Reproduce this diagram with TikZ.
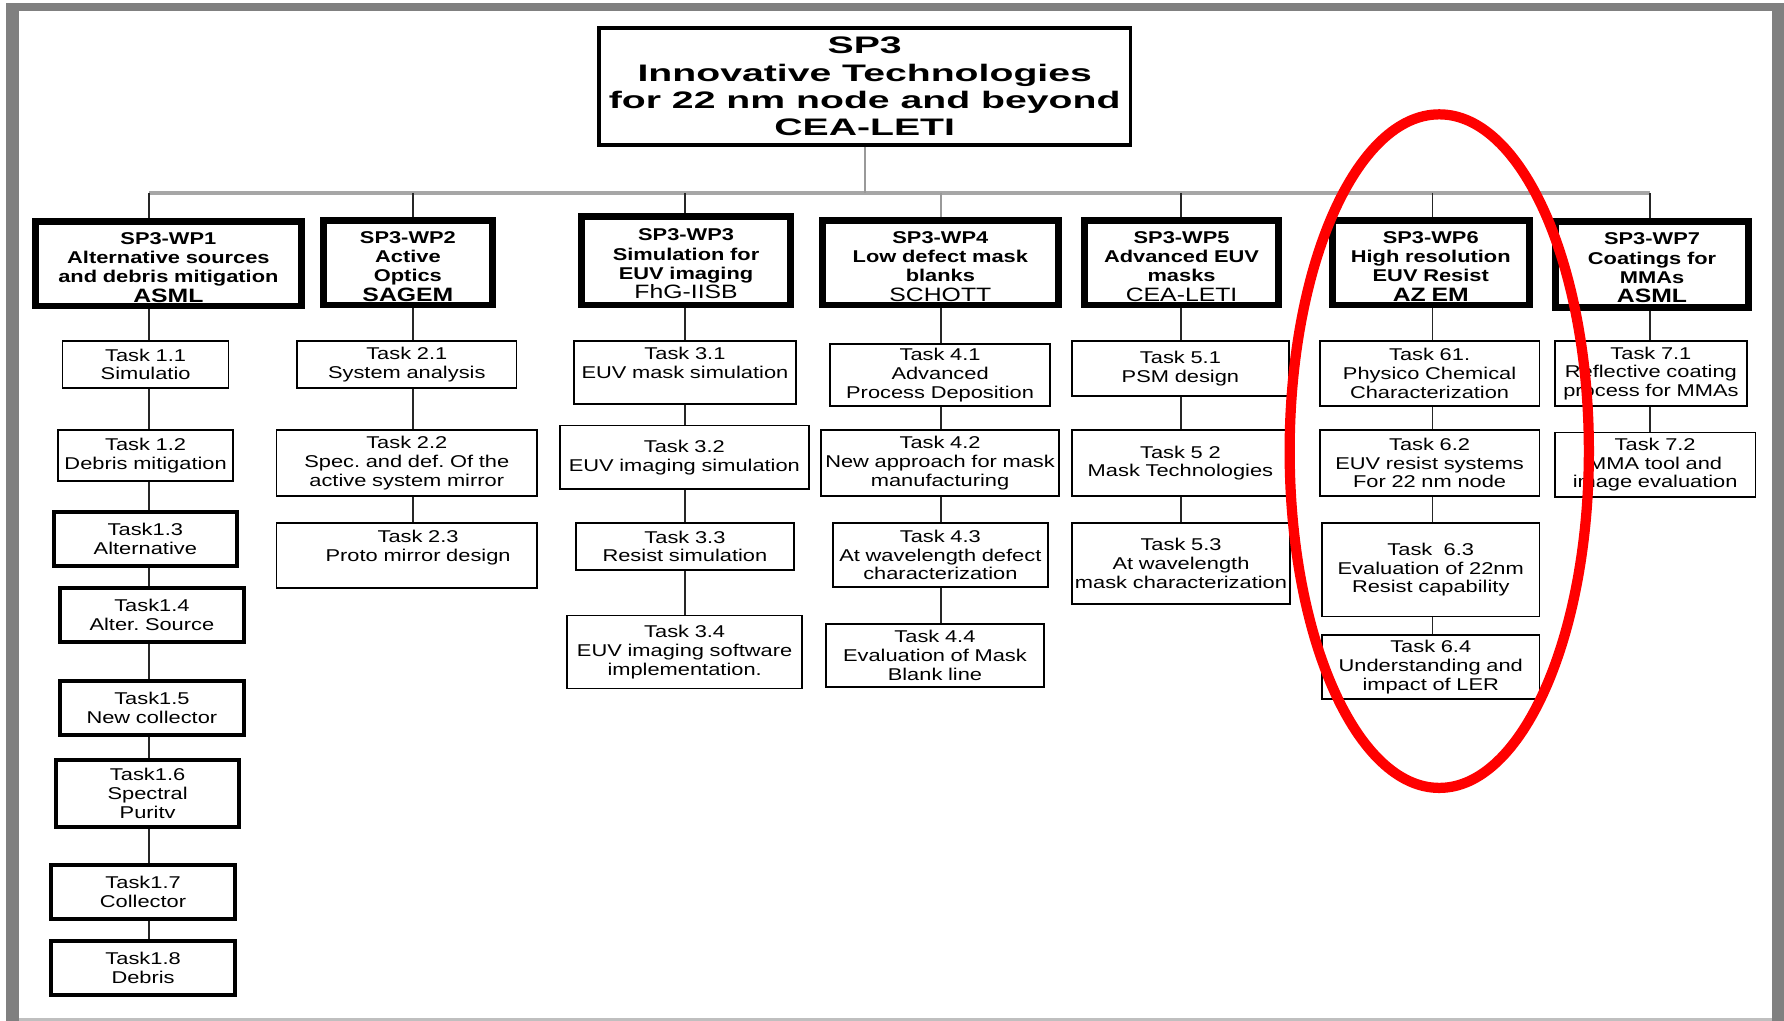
\documentclass[tikz,border=0pt]{standalone}
\usepackage{fontspec}
\setmainfont{Liberation Sans}[FakeStretch=1.28]
\newfontfamily\titlefont{Liberation Sans}[FakeStretch=1.64]
\definecolor{framegray}{HTML}{808080}
\frenchspacing

\begin{document}
\begin{tikzpicture}[x=1pt, y=-1pt,
	task/.style={draw, line width=1.4pt, inner sep=0pt, align=center, font=\fontsize{15}{16.5}\selectfont},
	heavytask/.style={task, line width=3.5pt},
	wp/.style={draw, line width=6pt, inner sep=0pt, align=center, font=\fontsize{15}{17}\selectfont\bfseries, execute at begin node={\rule{0pt}{16.5pt}}},
	titlebox/.style={draw, line width=3pt, inner sep=0pt, align=center, font=\titlefont\fontsize{21}{23.9}\selectfont\bfseries},
	dims/.style 2 args={minimum width=#1pt, text width=#1pt, minimum height=#2pt},
	link/.style={line width=1.3pt, black!85},
	bus/.style={line width=3pt, black!35}]
	
	\useasboundingbox (0,0) rectangle (1568,897);
	\fill [white] (0,0) rectangle (1568,897);
	\fill [framegray] (5.3,2.6) rectangle (1568,897);
	\fill [white] (16.7,9.7) rectangle (1557.4,894.8);
	\fill [black!25] (16.7,894.8) rectangle (1557.4,897);
	
	\node [titlebox, minimum width=467, minimum height=103] (sp3) at (760,76) {SP3\\Innovative Technologies\\for 22 nm node and beyond\\CEA-LETI};
	
	\node [wp, dims={234}{74}] (wp1) at (148,232) {SP3-WP1\\Alternative sources\\and debris mitigation\\\fontsize{17}{17}\selectfont ASML};
	\node [wp, dims={149}{74}] (wp2) at (358.5,231) {SP3-WP2\\Active\\Optics\\\fontsize{17}{17}\selectfont SAGEM};
	\node [wp, dims={184}{78}] (wp3) at (603,229) {SP3-WP3\\Simulation for\\EUV imaging\\\fontsize{17}{17}\selectfont\mdseries FhG-IISB};
	\node [wp, dims={207}{74}] (wp4) at (826.5,231) {SP3-WP4\\Low defect mask\\blanks\\\fontsize{17}{17}\selectfont\mdseries SCHOTT};
	\node [wp, dims={171}{74}] (wp5) at (1038.5,231) {SP3-WP5\\Advanced EUV\\masks\\\fontsize{17}{17}\selectfont\mdseries CEA-LETI};
	\node [wp, dims={173}{74}] (wp6) at (1257.5,231) {SP3-WP6\\High resolution\\EUV Resist\\\fontsize{17}{17}\selectfont AZ EM};
	\node [wp, dims={170}{75}] (wp7) at (1452,232.5) {SP3-WP7\\Coatings for\\MMAs\\\fontsize{17}{17}\selectfont ASML};
	
	\node [task, dims={146}{41.5}] (t11) at (128,320.25) {Task 1.1\\Simulatio};
	\node [task, dims={154}{45}] (t12) at (128,400.5) {Task 1.2\\Debris mitigation};
	\node [heavytask, dims={161}{48}] (t13) at (127.75,473.75) {Task1.3\\Alternative};
	\node [heavytask, dims={161.5}{47.5}] (t14) at (133.5,540.5) {Task1.4\\Alter. Source};
	\node [heavytask, dims={161.5}{47}] (t15) at (133.5,622.25) {Task1.5\\New collector};
	\node [heavytask, dims={161}{59.5}] (t16) at (129.75,697.5) {Task1.6\\Spectral\\Puritv};
	\node [heavytask, dims={162}{47.5}] (t17) at (125.75,784) {Task1.7\\Collector};
	\node [heavytask, dims={162}{47.5}] (t18) at (125.75,850.5) {Task1.8\\Debris};
	
	\node [task, dims={193}{41.5}] (t21) at (357.5,320.25) {Task 2.1\\System analysis};
	\node [task, dims={229}{58}] (t22) at (357.5,407) {Task 2.2\\Spec. and def. Of the\\active system mirror};
	\node [task, dims={229}{57.5}] (t23) at (357.5,488.25) {\hspace*{20pt}Task 2.3\\\hspace*{20pt}Proto mirror design\\\mbox{}};
	
	\node [task, dims={195}{55.5}] (t31) at (602,327.25) {Task 3.1\\EUV mask simulation\\\mbox{}};
	\node [task, dims={219}{56}] (t32) at (601.5,402) {Task 3.2\\EUV imaging simulation};
	\node [task, dims={192}{41.5}] (t33) at (602,480.25) {Task 3.3\\Resist simulation};
	\node [task, dims={206.5}{64}] (t34) at (601.75,573) {Task 3.4\\EUV imaging software\\implementation.};
	
	\node [task, dims={193.5}{54.5}] (t41) at (826.25,329.75) {Task 4.1\\Advanced\\Process Deposition};
	\node [task, dims={209.5}{58}] (t42) at (826.25,407) {Task 4.2\\New approach for mask\\manufacturing};
	\node [task, dims={189}{56.5}] (t43) at (826.5,487.75) {Task 4.3\\At wavelength defect\\characterization};
	\node [task, dims={191.5}{55.5}] (t44) at (821.75,576.25) {Task 4.4\\Evaluation of Mask\\Blank line};
	
	\node [task, dims={191}{48.5}] (t51) at (1037.5,323.75) {Task 5.1\\PSM design};
	\node [task, dims={191}{58}] (t52) at (1037.5,407) {Task 5 2\\Mask Technologies};
	\node [task, dims={192}{71.5}] (t53) at (1038,495.25) {Task 5.3\\At wavelength\\mask characterization};
	
	\node [task, dims={193}{57.5}] (t61) at (1256.5,328.25) {Task 61.\\Physico Chemical\\Characterization};
	\node [task, dims={193}{58}] (t62) at (1256.5,407) {Task 6.2\\EUV resist systems\\For 22 nm node};
	\node [task, dims={191}{82.5}] (t63) at (1257.5,500.75) {Task\ \ 6.3\\Evaluation of 22nm\\Resist capability};
	\node [task, dims={191}{56.5}] (t64) at (1257.5,586.25) {Task 6.4\\Understanding and\\impact of LER};
	
	\node [task, dims={169}{57.5}] (t71) at (1451,328.25) {Task 7.1\\Reflective coating\\process for MMAs};
	\node [task, dims={176.5}{57}] (t72) at (1454.75,408.5) {Task 7.2\\MMA tool and\\image evaluation};
	
	\coordinate (c1) at (131,169.5);
	\coordinate (c2) at (363,169.5);
	\coordinate (c3) at (602,169.5);
	\coordinate (c4) at (827,169.5);
	\coordinate (c5) at (1038,169.5);
	\coordinate (c6) at (1259,169.5);
	\coordinate (c7) at (1450,169.5);
	
	\draw [bus] (c1) -- (c7);
	\draw [line width=1.5pt, black!40] (sp3.south) -- (sp3.south |- c1);
	\draw [link] (c1) -- (c1 |- wp1.north);
	\draw [link] (c2) -- (c2 |- wp2.north);
	\draw [link] (c3) -- (c3 |- wp3.north);
	\draw [link, black!40] (c4) -- (c4 |- wp4.north);
	\draw [link] (c5) -- (c5 |- wp5.north);
	\draw [link] (c6) -- (c6 |- wp6.north);
	\draw [link] (c7) -- (c7 |- wp7.north);
	
	\draw [link] (c1 |- wp1.south) -- (c1 |- t11.north);
	\draw [link] (c1 |- t11.south) -- (c1 |- t12.north);
	\draw [link] (c1 |- t12.south) -- (c1 |- t13.north);
	\draw [link] (c1 |- t13.south) -- (c1 |- t14.north);
	\draw [link] (c1 |- t14.south) -- (c1 |- t15.north);
	\draw [link] (c1 |- t15.south) -- (c1 |- t16.north);
	\draw [link] (c1 |- t16.south) -- (c1 |- t17.north);
	\draw [link] (c1 |- t17.south) -- (c1 |- t18.north);
	
	\draw [link] (c2 |- wp2.south) -- (c2 |- t21.north);
	\draw [link] (c2 |- t21.south) -- (c2 |- t22.north);
	\draw [link] (c2 |- t22.south) -- (c2 |- t23.north);
	
	\draw [link] (c3 |- wp3.south) -- (c3 |- t31.north);
	\draw [link] (c3 |- t31.south) -- (c3 |- t32.north);
	\draw [link] (c3 |- t32.south) -- (c3 |- t33.north);
	\draw [link] (c3 |- t33.south) -- (c3 |- t34.north);
	
	\draw [link] (c4 |- wp4.south) -- (c4 |- t41.north);
	\draw [link] (c4 |- t41.south) -- (c4 |- t42.north);
	\draw [link] (c4 |- t42.south) -- (c4 |- t43.north);
	\draw [link] (c4 |- t43.south) -- (c4 |- t44.north);
	
	\draw [link] (c5 |- wp5.south) -- (c5 |- t51.north);
	\draw [link] (c5 |- t51.south) -- (c5 |- t52.north);
	\draw [link] (c5 |- t52.south) -- (c5 |- t53.north);
	
	\draw [link] (c6 |- wp6.south) -- (c6 |- t61.north);
	\draw [link] (c6 |- t61.south) -- (c6 |- t62.north);
	\draw [link] (c6 |- t62.south) -- (c6 |- t63.north);
	\draw [link] (c6 |- t63.south) -- (c6 |- t64.north);
	
	\draw [link] (c7 |- wp7.south) -- (c7 |- t71.north);
	\draw [link] (c7 |- t71.south) -- (c7 |- t72.north);
	
	\draw [red, line width=9pt] (1265,396.5) ellipse [x radius=131.5pt, y radius=296pt];
	
\end{tikzpicture}
\end{document}
